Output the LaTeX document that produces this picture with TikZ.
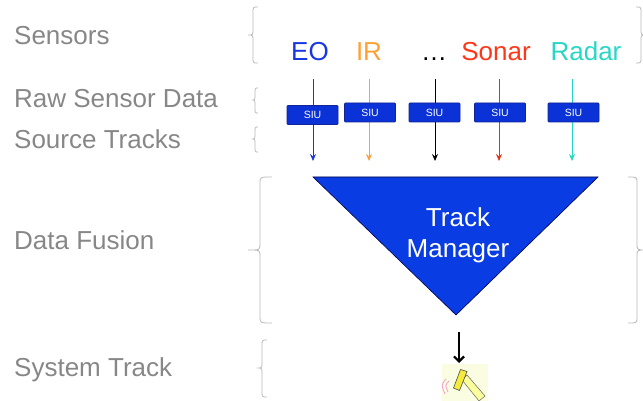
\documentclass[tikz,border=0pt]{standalone}
\usepackage{fontspec}
\setmainfont{Liberation Sans}
\usetikzlibrary{arrows.meta}
\begin{document}
\begin{tikzpicture}[x=1pt,y=-1pt,
  lbl/.style={anchor=west,inner sep=0pt,text=lblgray,font=\fontsize{26}{30}\selectfont},
  sens/.style={inner sep=0pt,anchor=base,font=\fontsize{26}{30}\selectfont},
  siu/.style={draw=siuedge,fill=siufill,rounded corners=1pt,line width=0.8pt,minimum width=51pt,minimum height=19pt,inner sep=0pt,text=white,font=\fontsize{10.5}{12}\selectfont},
  feed/.style={-{Stealth[length=7pt,width=6pt,inset=2.5pt]},line width=0.8pt},
  bracepath/.style={draw=bracegray,line width=0.8pt},
]
\definecolor{lblgray}{RGB}{135,135,135}
\definecolor{bracegray}{RGB}{185,185,185}
\definecolor{eoc}{RGB}{25,55,225}
\definecolor{irc}{RGB}{255,160,55}
\definecolor{sonc}{RGB}{255,55,25}
\definecolor{radc}{RGB}{40,215,195}
\definecolor{siufill}{RGB}{10,50,215}
\definecolor{siuedge}{RGB}{20,35,150}
\definecolor{tmfill}{RGB}{10,60,228}
\definecolor{padbg}{RGB}{250,253,225}
\definecolor{padyel}{RGB}{245,235,60}
\useasboundingbox (0,0) rectangle (643,401);

% left labels
\node[lbl] (lsens) at (14,36) {Sensors};
\node[lbl] (lraw) at (14,99) {Raw Sensor Data};
\node[lbl] (lsrc) at (14,139) {Source Tracks};
\node[lbl] (lfus) at (14,240) {Data Fusion};
\node[lbl] (lsys) at (14,370) {System Track};

% braces (tip x, width, top y, bottom y, tip y)
\def\lbrace#1#2#3#4#5{%
  \draw[bracepath] ({#1+#2},#3) .. controls ({#1+#2/2},#3) .. ({#1+#2/2},{#3+6})
    -- ({#1+#2/2},{#5-6}) .. controls ({#1+#2/2},#5) .. (#1,#5)
    .. controls ({#1+#2/2},#5) .. ({#1+#2/2},{#5+6})
    -- ({#1+#2/2},{#4-6}) .. controls ({#1+#2/2},#4) .. ({#1+#2},#4);}
\def\rbrace#1#2#3#4#5{%
  \draw[bracepath] ({#1-#2},#3) .. controls ({#1-#2/2},#3) .. ({#1-#2/2},{#3+6})
    -- ({#1-#2/2},{#5-6}) .. controls ({#1-#2/2},#5) .. (#1,#5)
    .. controls ({#1-#2/2},#5) .. ({#1-#2/2},{#5+6})
    -- ({#1-#2/2},{#4-6}) .. controls ({#1-#2/2},#4) .. ({#1-#2},#4);}
\lbrace{248}{10}{7}{63}{35}
\rbrace{646}{10}{7}{63}{35}
\lbrace{252}{6}{88}{113}{100}
\lbrace{252}{6}{127}{152}{139}
\lbrace{248}{24}{177}{323}{250}
\rbrace{646}{18}{177}{323}{250}
\lbrace{257}{10}{340}{397}{368}

% sensor names
\node[sens,text=eoc] (eo) at (310,61) {EO};
\node[sens,text=irc] (ir) at (369,61) {IR};
\node[sens,text=black] (dots) at (434,61) {\dots};
\node[sens,text=sonc] (sonar) at (496,61) {Sonar};
\node[sens,text=radc] (radar) at (586,61) {Radar};

% feed coordinates
\foreach \n/\x in {a/313,b/369,c/435,d/499,e/572}{
  \coordinate (\n top) at (\x,79);
  \coordinate (\n end) at (\x,161);
}
\draw[feed,eoc] (atop) -- (aend);
\draw[feed,irc] (btop) -- (bend);
\draw[feed,black] (ctop) -- (cend);
\draw[feed,sonc!90!black] (dtop) -- (dend);
\draw[feed,radc] (etop) -- (eend);

% SIU boxes
\node[siu] (siu1) at (312.5,115) {SIU};
\node[siu] (siu2) at (370,112.5) {SIU};
\node[siu] (siu3) at (434.5,112.5) {SIU};
\node[siu] (siu4) at (500,112.5) {SIU};
\node[siu] (siu5) at (573.5,112.5) {SIU};

% track manager
\coordinate (tl) at (313,177);
\coordinate (tr) at (598,177);
\coordinate (tb) at (456,315);
\draw[fill=tmfill,draw=black!70!blue,line width=0.6pt] (tl) -- (tr) -- (tb) -- cycle;
\node[text=white,align=center,font=\fontsize{26}{31}\selectfont,inner sep=0pt] (tm) at (458,235) {Track\\Manager};

% output arrow
\coordinate (otop) at (459,332);
\coordinate (oend) at (459,363);
\draw[-{Straight Barb[length=5pt,width=10pt]},line width=2.2pt] (otop) -- (oend);

% system track icon
\fill[padbg] (442,364) rectangle (488,401);
\draw[fill=padbg!70!yellow,draw=black!60,line width=0.5pt] (462,380) -- (467,375) -- (485,396) -- (479,401) -- cycle;
\draw[fill=padyel,draw=black!70,line width=0.6pt] (460.5,369.5) -- (467,371.5) -- (459.5,390.5) -- (453.5,388) -- cycle;
\draw[magenta!40,line width=0.8pt] (449,381) .. controls (445,385) .. (448,392);
\draw[magenta!40,line width=0.8pt] (446,379) .. controls (441,385) .. (445,394);
\end{tikzpicture}
\end{document}
